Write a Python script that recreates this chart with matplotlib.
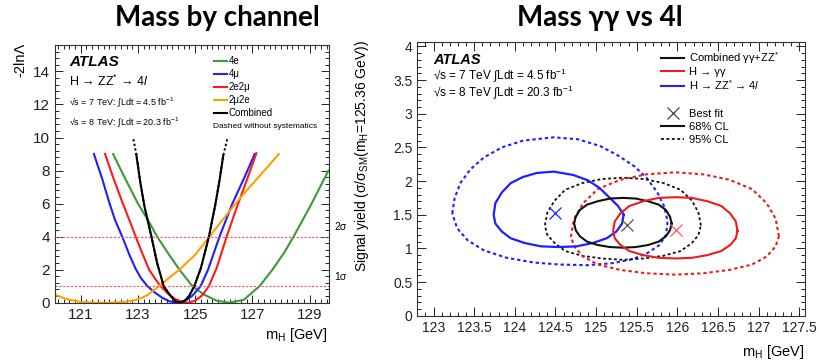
import numpy as np
import matplotlib
matplotlib.use("Agg")
import matplotlib.pyplot as plt
from matplotlib.ticker import FixedLocator, MultipleLocator
from matplotlib.lines import Line2D

# ---------------- left panel: -2lnL scans per channel ----------------
channels = ["4e", "4\u03bc", "2e2\u03bc", "2\u03bc2e", "Combined"]
channel_colors = ["#3a9a3a", "#1f1fff", "#ff1a1a", "#ffa000", "#000000"]

mh_4e = [122.13, 122.5, 123.0, 123.35, 123.67, 124.05, 124.45, 124.9, 125.3, 125.75,
         126.2, 126.7, 127.25, 127.7, 128.1, 128.44, 129.07, 129.66]
nll_4e = [9.0, 7.7, 6.0, 5.0, 4.0, 3.0, 2.0, 1.0, 0.5, 0.12,
          0.0, 0.18, 1.0, 2.0, 3.0, 4.0, 6.0, 8.0]

mh_4mu = [121.46, 121.75, 121.99, 122.2, 122.45, 122.7, 122.92, 123.1, 123.33, 123.6,
          123.85, 124.1, 124.4, 124.65, 124.9, 125.19, 125.45, 125.85, 126.3, 126.7, 127.08]
nll_4mu = [9.0, 7.5, 6.1, 5.0, 4.0, 2.9, 2.05, 1.5, 1.0, 0.6,
           0.3, 0.08, 0.0, 0.1, 0.42, 1.0, 2.0, 4.0, 6.0, 7.5, 9.0]

mh_2e2mu = [121.85, 122.15, 122.45, 122.7, 122.92, 123.15, 123.39, 123.6, 123.79, 124.05,
            124.3, 124.55, 124.75, 125.0, 125.25, 125.48, 125.75, 126.1, 126.46, 126.8, 127.14]
nll_2e2mu = [9.0, 7.5, 6.1, 5.0, 4.0, 3.0, 2.0, 1.45, 1.0, 0.55,
             0.22, 0.04, 0.0, 0.12, 0.45, 1.0, 2.1, 4.0, 5.8, 7.4, 9.05]

mh_2mu2e = [120.13, 120.5, 121.0, 121.5, 122.0, 122.5, 122.86, 123.1, 123.33, 123.7,
            124.05, 124.45, 125.0, 125.48, 125.95, 126.41, 126.9, 127.42, 127.92]
nll_2mu2e = [0.46, 0.22, 0.04, 0.0, 0.0, 0.04, 0.13, 0.26, 0.46, 0.95,
             1.45, 2.0, 2.9, 3.95, 5.0, 6.0, 7.0, 8.0, 9.0]

mh_comb = [122.84, 122.94, 123.08, 123.23, 123.47, 123.67, 123.9, 124.1, 124.3, 124.46,
           124.65, 124.8, 124.97, 125.2, 125.48, 125.7, 125.85, 125.98, 126.12]
nll_comb = [9.9, 9.0, 7.3, 5.8, 4.0, 2.4, 1.0, 0.5, 0.1, 0.0,
            0.14, 0.44, 1.0, 2.1, 4.0, 5.9, 7.4, 8.9, 9.9]

sigma_levels = [1, 4]
sigma_labels = ["1\u03c3", "2\u03c3"]

# ---------------- right panel: mu vs mH contours ----------------
bf_mh = [124.5, 125.38, 125.98]          # ZZ, combined, gamgam
bf_mu = [1.52, 1.35, 1.27]

zz68_mh = [125.34, 125.27, 125.16, 125.04, 124.90, 124.72, 124.48, 124.27, 124.10, 123.95,
           123.84, 123.76, 123.74, 123.76, 123.84, 123.95, 124.12, 124.32, 124.54, 124.76,
           124.96, 125.13, 125.25, 125.32, 125.34]
zz68_mu = [1.50, 1.63, 1.76, 1.90, 2.01, 2.09, 2.14, 2.12, 2.06, 1.97,
           1.83, 1.67, 1.50, 1.37, 1.25, 1.15, 1.08, 1.03, 1.02, 1.03,
           1.08, 1.15, 1.25, 1.37, 1.50]

zz95_mh = [123.23, 123.26, 123.33, 123.45, 123.62, 123.84, 124.10, 124.48, 124.78, 125.05,
           125.27, 125.47, 125.62, 125.75, 125.84, 125.88, 125.86, 125.78, 125.63, 125.45,
           125.20, 124.89, 124.55, 124.23, 123.90, 123.62, 123.42, 123.29, 123.23]
zz95_mu = [1.52, 1.75, 1.97, 2.17, 2.35, 2.50, 2.60, 2.65, 2.62, 2.52,
           2.38, 2.22, 2.05, 1.84, 1.62, 1.40, 1.20, 1.05, 0.93, 0.84,
           0.78, 0.75, 0.76, 0.79, 0.86, 0.97, 1.12, 1.30, 1.52]

comb68_mh = [125.93, 125.91, 125.86, 125.77, 125.64, 125.49, 125.33, 125.17, 125.02, 124.89,
             124.80, 124.75, 124.73, 124.75, 124.80, 124.89, 125.02, 125.17, 125.33, 125.49,
             125.64, 125.77, 125.86, 125.91, 125.93]
comb68_mu = [1.37, 1.47, 1.57, 1.65, 1.70, 1.74, 1.75, 1.74, 1.70, 1.65,
             1.57, 1.47, 1.37, 1.27, 1.18, 1.10, 1.05, 1.02, 1.01, 1.02,
             1.05, 1.10, 1.18, 1.27, 1.37]

comb95_mh = [126.29, 126.26, 126.18, 126.04, 125.83, 125.59, 125.33, 125.07, 124.83, 124.62,
             124.49, 124.40, 124.37, 124.40, 124.49, 124.62, 124.83, 125.07, 125.33, 125.59,
             125.83, 126.04, 126.18, 126.26, 126.29]
comb95_mu = [1.34, 1.53, 1.71, 1.87, 1.97, 2.03, 2.05, 2.03, 1.97, 1.87,
             1.71, 1.53, 1.34, 1.20, 1.08, 0.96, 0.89, 0.85, 0.83, 0.85,
             0.89, 0.96, 1.08, 1.20, 1.34]

gg68_mh = [126.74, 126.72, 126.65, 126.54, 126.37, 126.18, 125.98, 125.77, 125.58, 125.41,
           125.30, 125.23, 125.21, 125.23, 125.30, 125.41, 125.58, 125.77, 125.98, 126.18,
           126.37, 126.54, 126.65, 126.72, 126.74]
gg68_mu = [1.26, 1.40, 1.52, 1.63, 1.70, 1.75, 1.76, 1.75, 1.70, 1.63,
           1.52, 1.40, 1.26, 1.15, 1.05, 0.96, 0.90, 0.86, 0.85, 0.86,
           0.90, 0.96, 1.05, 1.15, 1.26]

gg95_mh = [127.25, 127.21, 127.10, 126.92, 126.64, 126.32, 125.97, 125.62, 125.30, 125.02,
           124.84, 124.73, 124.69, 124.73, 124.84, 125.02, 125.30, 125.62, 125.97, 126.32,
           126.64, 126.92, 127.10, 127.21, 127.25]
gg95_mu = [1.18, 1.44, 1.67, 1.88, 2.02, 2.10, 2.13, 2.10, 2.02, 1.88,
           1.67, 1.44, 1.18, 1.03, 0.88, 0.76, 0.68, 0.63, 0.61, 0.63,
           0.68, 0.76, 0.88, 1.03, 1.18]

fit_labels = ["Combined \u03b3\u03b3+ZZ$^{*}$", "H \u2192 \u03b3\u03b3",
              "H \u2192 ZZ$^{*}$ \u2192 4$\\it{l}$"]

plt.rcParams["font.family"] = ["Liberation Sans", "DejaVu Sans"]
plt.rcParams["mathtext.fontset"] = "custom"
plt.rcParams["mathtext.rm"] = "Liberation Sans"
plt.rcParams["mathtext.it"] = "Liberation Sans:italic"
plt.rcParams["mathtext.bf"] = "Liberation Sans:bold"

W, H = 819, 364
fig = plt.figure(figsize=(W / 100, H / 100), dpi=100)


def fx(px):
    return px / W


def fy(py):
    return 1 - py / H


def root_style(ax, maj, mnr):
    ax.tick_params(which="both", direction="in", top=True, right=True, width=0.7, colors="#222222")
    ax.tick_params(which="major", length=maj)
    ax.tick_params(which="minor", length=mnr)
    for s in ax.spines.values():
        s.set_linewidth(0.8)
        s.set_color("#333333")


# ---------- left ----------
ax1 = fig.add_axes([fx(55), fy(302.7), fx(328.5) - fx(55), fy(45) - fy(302.7)])
scans = [(mh_4e, nll_4e), (mh_4mu, nll_4mu), (mh_2e2mu, nll_2e2mu),
         (mh_2mu2e, nll_2mu2e), (mh_comb, nll_comb)]
for (mx, ny), c, lab in zip(scans, channel_colors, channels):
    mx = np.array(mx)
    ny = np.array(ny)
    if lab == "Combined":
        ax1.plot(mx, ny, color=c, lw=1.4, ls=(0, (1.2, 1.2)))
        keep = ny <= 9.0
        ax1.plot(mx[keep], ny[keep], color=c, lw=1.5, label=lab, solid_joinstyle="round")
    else:
        ax1.plot(mx, ny, color=c, lw=1.5, label=lab, solid_joinstyle="round")

for lvl, slab in zip(sigma_levels, sigma_labels):
    ax1.axhline(lvl, color="#ff5555", lw=0.8, ls=(0, (2, 1.5)))
    ax1.annotate(slab, xy=(1, lvl), xycoords=("axes fraction", "data"), xytext=(4, 3),
                 textcoords="offset points", fontsize=7.5, va="bottom")

ax1.set_xlim(120.1, 129.66)
ax1.set_ylim(0, 15.6)
ax1.xaxis.set_major_locator(FixedLocator([121, 123, 125, 127, 129]))
ax1.xaxis.set_minor_locator(MultipleLocator(0.2))
ax1.yaxis.set_major_locator(MultipleLocator(2))
ax1.yaxis.set_minor_locator(MultipleLocator(0.4))
ax1.tick_params(labelsize=11)
root_style(ax1, 6, 3)

ax1.legend(loc="upper left", bbox_to_anchor=(fx(214), fy(56)), bbox_transform=fig.transFigure,
           frameon=False, fontsize=7, handlelength=1.3, handletextpad=0.2,
           labelspacing=0.32, borderpad=0, borderaxespad=0)

fig.text(fx(213), fy(126), "Dashed without systematics", fontsize=6, va="center")
fig.text(fx(69), fy(62), "ATLAS", fontsize=11, fontweight="bold", fontstyle="italic", va="center")
fig.text(fx(69), fy(81), "H \u2192 ZZ$^{*}$ \u2192 4$\\it{l}$", fontsize=9, va="center")
fig.text(fx(69), fy(102), "\u221as = 7 TeV: $\\int$Ldt = 4.5 fb$^{-1}$", fontsize=6.5, va="center")
fig.text(fx(69), fy(122), "\u221as = 8 TeV: $\\int$Ldt = 20.3 fb$^{-1}$", fontsize=6.5, va="center")

fig.text(fx(20), fy(43), "-2ln\u039b", rotation=90, ha="center", va="top", fontsize=10.5)
fig.text(fx(328), fy(335), "m$_{\\mathrm{H}}$ [GeV]", ha="right", va="center", fontsize=10.5)

# ---------- right ----------
ax2 = fig.add_axes([fx(417.3), fy(315.7), fx(804.5) - fx(417.3), fy(41.7) - fy(315.7)])
col_zz, col_comb, col_gg = "#1f1fff", "#111111", "#ee1c1c"
dot = (0, (1.6, 1.4))
ax2.plot(zz95_mh, zz95_mu, color=col_zz, lw=1.5, ls=dot)
ax2.plot(comb95_mh, comb95_mu, color=col_comb, lw=1.3, ls=dot)
ax2.plot(gg95_mh, gg95_mu, color=col_gg, lw=1.5, ls=dot)
ax2.plot(zz68_mh, zz68_mu, color=col_zz, lw=1.6, solid_joinstyle="round")
ax2.plot(comb68_mh, comb68_mu, color=col_comb, lw=1.5, solid_joinstyle="round")
ax2.plot(gg68_mh, gg68_mu, color=col_gg, lw=1.5, solid_joinstyle="round")
for m, u, c in zip(bf_mh, bf_mu, [col_zz, "#555555", "#ff5555"]):
    ax2.plot(m, u, marker="x", ms=8, mew=0.9, color=c, ls="none")

ax2.set_xlim(122.8, 127.565)
ax2.set_ylim(0, 4.07)
ax2.xaxis.set_major_locator(MultipleLocator(0.5))
ax2.xaxis.set_minor_locator(MultipleLocator(0.1))
ax2.yaxis.set_major_locator(MultipleLocator(0.5))
ax2.yaxis.set_minor_locator(MultipleLocator(0.1))
ax2.xaxis.set_major_formatter(plt.FuncFormatter(lambda v, p: ("%g" % v)))
ax2.yaxis.set_major_formatter(plt.FuncFormatter(lambda v, p: ("%g" % v)))
ax2.tick_params(labelsize=10)
root_style(ax2, 6.5, 3.2)

h1 = [Line2D([], [], color=c, lw=1.5) for c in [col_comb, col_gg, col_zz]]
legA = ax2.legend(h1, fit_labels, loc="upper left", bbox_to_anchor=(fx(661), fy(50)),
                  bbox_transform=fig.transFigure, frameon=False, fontsize=8, handlelength=2.1,
                  handletextpad=0.45, labelspacing=0.12, borderpad=0, borderaxespad=0)
ax2.add_artist(legA)
h2 = [Line2D([], [], color="#444444", marker="x", ms=8, mew=0.9, ls="none"),
      Line2D([], [], color="#111111", lw=1.5),
      Line2D([], [], color="#111111", lw=1.3, ls=dot)]
ax2.legend(h2, ["Best fit", "68% CL", "95% CL"], loc="upper left", bbox_to_anchor=(fx(661), fy(109)),
           bbox_transform=fig.transFigure, frameon=False, fontsize=8, handlelength=2.1,
           handletextpad=0.45, labelspacing=0.25, borderpad=0, borderaxespad=0)

fig.text(fx(433), fy(60), "ATLAS", fontsize=10.5, fontweight="bold", fontstyle="italic", va="center")
fig.text(fx(433), fy(75), "\u221as = 7 TeV $\\int$Ldt = 4.5 fb$^{-1}$", fontsize=8.5, va="center")
fig.text(fx(433), fy(92), "\u221as = 8 TeV $\\int$Ldt = 20.3 fb$^{-1}$", fontsize=8.5, va="center")

fig.text(fx(362), fy(40), "Signal yield (\u03c3/\u03c3$_{\\mathrm{SM}}$(m$_{\\mathrm{H}}$=125.36 GeV))",
         rotation=90, ha="center", va="top", fontsize=10)
fig.text(fx(805), fy(352), "m$_{\\mathrm{H}}$ [GeV]", ha="right", va="center", fontsize=10.5)

# ---------- titles ----------
fig.text(fx(217), fy(18), "Mass by channel", ha="center", va="center", fontsize=20,
         fontweight="bold", family=["Lato", "DejaVu Sans"])
fig.text(fx(600), fy(18), "Mass \u03b3\u03b3 vs 4l", ha="center", va="center", fontsize=20,
         fontweight="bold", family=["Lato", "DejaVu Sans"])

fig.savefig("out.png", dpi=100)
